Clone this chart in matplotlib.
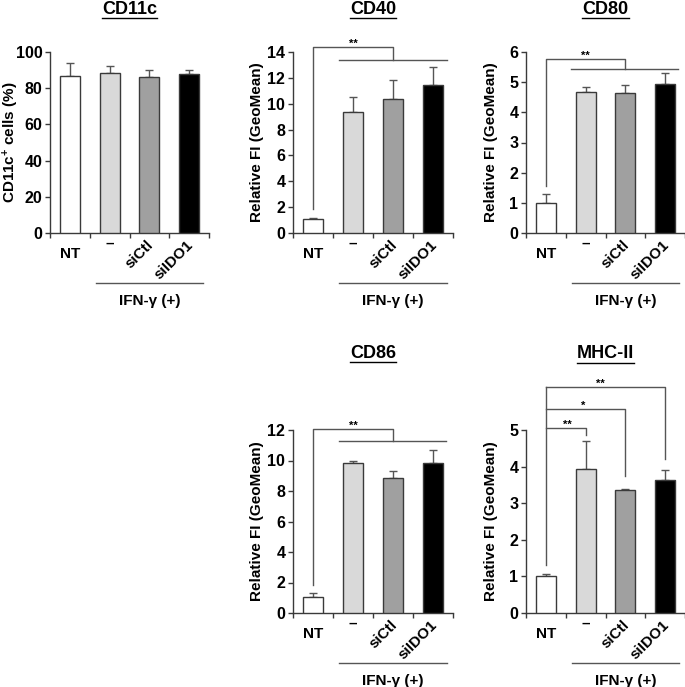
import matplotlib
matplotlib.use('Agg')
import matplotlib.pyplot as plt
from matplotlib.lines import Line2D
from matplotlib.transforms import blended_transform_factory

plt.rcParams['font.family'] = ['Liberation Sans', 'DejaVu Sans']
plt.rcParams['font.weight'] = 'bold'
plt.rcParams['mathtext.fontset'] = 'custom'
plt.rcParams['mathtext.rm'] = 'Liberation Sans:bold'
plt.rcParams['mathtext.it'] = 'Liberation Sans:bold:italic'
plt.rcParams['mathtext.bf'] = 'Liberation Sans:bold'

# ---------------- data ----------------
categories = ['NT', '–', 'siCtl', 'siIDO1']
group_label = 'IFN-γ (+)'

titles = ['CD11c', 'CD40', 'CD80', 'CD86', 'MHC-II']
ylabels = ['CD11c$^{+}$ cells (%)', 'Relative FI (GeoMean)', 'Relative FI (GeoMean)',
           'Relative FI (GeoMean)', 'Relative FI (GeoMean)']

cd11c_mean = [86.9, 88.3, 86.0, 87.7]
cd11c_err = [7.0, 4.2, 3.9, 2.3]
cd40_mean = [1.05, 9.38, 10.4, 11.45]
cd40_err = [0.12, 1.14, 1.45, 1.37]
cd80_mean = [1.0, 4.66, 4.64, 4.93]
cd80_err = [0.28, 0.17, 0.26, 0.36]
cd86_mean = [1.07, 9.81, 8.82, 9.81]
cd86_err = [0.22, 0.17, 0.5, 0.88]
mhc_mean = [1.005, 3.94, 3.36, 3.63]
mhc_err = [0.05, 0.75, 0.03, 0.27]

y_max = [100, 14, 6, 12, 5]
y_step = [20, 2, 1, 2, 1]

# significance brackets
group_brackets = {
    'CD40': dict(start=1.88, top=14.4, join=2.0, drop=13.4, x0=0.65, x1=3.36, star_x=1.0, text='**'),
    'CD80': dict(start=1.57, top=5.78, join=2.0, drop=5.45, x0=0.63, x1=3.33, star_x=1.0, text='**'),
    'CD86': dict(start=1.82, top=12.07, join=2.0, drop=11.3, x0=0.66, x1=3.33, star_x=1.0, text='**'),
}
mhc_start = 1.3
mhc_pairs_x = [1, 2, 3]
mhc_pairs_top = [5.06, 5.57, 6.18]
mhc_pairs_drop = [4.86, 3.75, 4.22]
mhc_pairs_star_x = [0.54, 0.93, 1.37]
mhc_pairs_text = ['**', '*', '**']

bar_colors = ['white', '#d9d9d9', '#a0a0a0', 'black']
edge = '#3a3a3a'
gray = '#555555'

# ---------------- layout (pixels) ----------------
W, H = 685, 687
fig = plt.figure(figsize=(W / 100, H / 100), dpi=100)

rects = [(50, 52, 159, 181), (293, 52, 160, 181), (526, 52, 159, 181),
         (293, 430, 160, 183), (526, 430, 159, 183)]
title_y = [9, 9, 9, 353, 354]
ylab_center = [39.5, 35.5, 35.5, 35.5, 35.5]   # px from axis to y-label centre

means = [cd11c_mean, cd40_mean, cd80_mean, cd86_mean, mhc_mean]
errs = [cd11c_err, cd40_err, cd80_err, cd86_err, mhc_err]

FS = 11
titles_artists = []
for k in range(5):
    l, t, w, h = rects[k]
    ax = fig.add_axes([l / W, 1 - (t + h) / H, w / W, h / H])
    x = list(range(len(categories)))
    ax.bar(x, means[k], width=0.5, color=bar_colors, edgecolor=edge, linewidth=1.0,
           zorder=3)
    ax.errorbar(x, means[k], yerr=[[0] * 4, errs[k]], fmt='none', ecolor=gray,
                elinewidth=1.0, capsize=3, capthick=1.0, zorder=2)
    ax.set_xlim(-0.5, 3.5)
    ax.set_ylim(0, y_max[k])
    yt = list(range(0, y_max[k] + 1, y_step[k]))
    ax.set_yticks(yt)
    ax.set_yticklabels([str(v) for v in yt], fontsize=FS + 0.5, fontweight='bold')
    ax.set_xticks([-0.5, 0.5, 1.5, 2.5, 3.5])
    ax.set_xticklabels([])
    ax.tick_params(axis='both', direction='out', length=3.5, width=1.0, color=edge, pad=2)
    for s in ['top', 'right']:
        ax.spines[s].set_visible(False)
    for s in ['left', 'bottom']:
        ax.spines[s].set_color(edge)
        ax.spines[s].set_linewidth(1.0)
    ax.text(-ylab_center[k] / w, 0.5, ylabels[k], transform=ax.transAxes, rotation=90,
            ha='center', va='center', fontsize=FS, fontweight='bold')

    # category labels
    kw = dict(xycoords=('data', 'axes fraction'), textcoords='offset pixels',
              fontsize=FS, fontweight='bold', annotation_clip=False)
    ax.annotate(categories[0], xy=(0, 0), xytext=(0, -21), ha='center', va='center', **kw)
    ax.annotate(categories[1], xy=(1, 0), xytext=(0, -11), ha='center', va='center', **kw)
    for i in (2, 3):
        ax.annotate(categories[i], xy=(i, 0), xytext=(2, -9.5), ha='right', va='center',
                    rotation=45, rotation_mode='anchor', **kw)

    # group line and label
    btr = blended_transform_factory(ax.transData, ax.transAxes)
    line_y = -50 / h
    ax.plot([0.65, 3.36], [line_y, line_y], transform=btr, color=gray, lw=1.0,
            clip_on=False)
    ax.text(2.0, -68 / h, group_label, transform=btr, ha='center', va='center',
            fontsize=FS, fontweight='bold')

    # significance
    name = titles[k]
    if name in group_brackets:
        g = group_brackets[name]
        ax.plot([0, 0, g['join'], g['join']], [g['start'], g['top'], g['top'], g['drop']],
                color=gray, lw=1.0, clip_on=False)
        ax.plot([g['x0'], g['x1']], [g['drop'], g['drop']], color=gray, lw=1.0,
                clip_on=False)
        ax.annotate(g['text'], xy=(g['star_x'], g['top']), xytext=(0, 0),
                    textcoords='offset pixels', ha='center', va='baseline',
                    fontsize=8, fontweight='bold', annotation_clip=False)
    elif name == 'MHC-II':
        ax.plot([0, 0], [mhc_start, max(mhc_pairs_top)], color=gray, lw=1.0, clip_on=False)
        for px, pt, pd, sx, st in zip(mhc_pairs_x, mhc_pairs_top, mhc_pairs_drop,
                                      mhc_pairs_star_x, mhc_pairs_text):
            ax.plot([0, px, px], [pt, pt, pd], color=gray, lw=1.0, clip_on=False)
            ax.annotate(st, xy=(sx, pt), xytext=(0, 0), textcoords='offset pixels',
                        ha='center', va='baseline', fontsize=8, fontweight='bold',
                        annotation_clip=False)

    # title
    tt = fig.text((l + w / 2) / W, 1 - title_y[k] / H, titles[k], ha='center',
                  va='center', fontsize=13, fontweight='bold')
    titles_artists.append(tt)

fig.canvas.draw()
r = fig.canvas.get_renderer()
for tt in titles_artists:
    bb = tt.get_window_extent(renderer=r)
    fig.add_artist(Line2D([bb.x0, bb.x1], [bb.y0 - 0.5, bb.y0 - 0.5], transform=None,
                          color='black', lw=1.0))

fig.savefig('out.png', dpi=100)
